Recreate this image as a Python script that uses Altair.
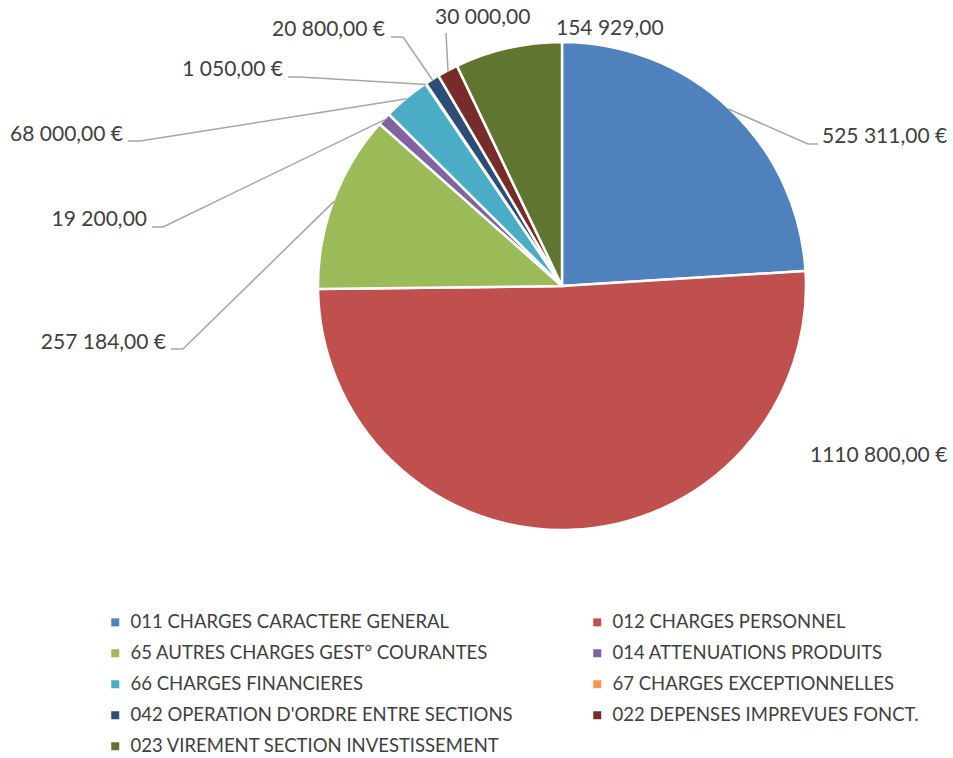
import altair as alt
import pandas as pd

# ---- data ----
categories = [
    "011 CHARGES CARACTERE GENERAL",
    "012 CHARGES PERSONNEL",
    "65 AUTRES CHARGES GEST° COURANTES",
    "014 ATTENUATIONS PRODUITS",
    "66 CHARGES FINANCIERES",
    "67 CHARGES EXCEPTIONNELLES",
    "042 OPERATION D'ORDRE ENTRE SECTIONS",
    "022 DEPENSES IMPREVUES FONCT.",
    "023 VIREMENT SECTION INVESTISSEMENT",
]
values = [525311, 1110800, 257184, 19200, 68000, 1050, 20800, 30000, 154929]
value_labels = [
    "525 311,00 €", "1110 800,00 €", "257 184,00 €", "19 200,00",
    "68 000,00 €", "1 050,00 €", "20 800,00 €", "30 000,00", "154 929,00",
]
colors = ["#4F81BD", "#C0504D", "#9BBB59", "#8064A2", "#4BACC6",
          "#F79646", "#2C4D75", "#772C2A", "#5F7530"]

# legend is filled column by column: reorder so it reads row-wise like the reference
legend_order = [0, 2, 4, 6, 8, 1, 3, 5, 7]
legend_domain = [categories[i] for i in legend_order]
legend_range = [colors[i] for i in legend_order]

# ---- layout (label placement, like Excel's best-fit labels) ----
CX, CY, R = 562, 286, 243
label_x = [822, 810, 166, 147, 123, 283, 385, 435, 556]
label_y = [137, 456, 343, 220, 135, 70, 30, 18, 29]
label_align = ["left", "left", "right", "right", "right", "right", "right", "left", "left"]
has_leader = [True, False, True, True, True, True, True, True, False]
elbow_x = [808, 0, 183, 163, 140, 300, 403, 446, 0]
elbow_y = [144, 0, 349, 227, 141, 77, 37, 33, 0]
end_x = [818, 0, 171, 152, 128, 288, 391, 446, 0]

df = pd.DataFrame({
    "cat": categories,
    "value": values,
    "order": list(range(len(categories))),
    "label": value_labels,
    "tx": label_x,
    "ty": label_y,
    "align": label_align,
    "leader": has_leader,
    "bx": elbow_x,
    "by": elbow_y,
    "hx": end_x,
})

FONT = "Lato"
TEXT_COLOR = "#404040"
LINE_COLOR = "#A6A6A6"

base = alt.Chart(df)

pie = base.mark_arc(outerRadius=R + 1, stroke="white", strokeWidth=2.5).encode(
    theta=alt.Theta("value:Q", stack=True),
    order=alt.Order("order:Q", sort="ascending"),
    x=alt.value(CX),
    y=alt.value(CY),
    color=alt.Color(
        "cat:N",
        scale=alt.Scale(domain=legend_domain, range=legend_range),
        legend=alt.Legend(
            title=None,
            orient="none",
            legendX=106,
            legendY=613,
            columns=2,
            columnPadding=75,
            rowPadding=12,
            symbolType="square",
            symbolSize=64,
            symbolStrokeWidth=0,
            symbolOffset=0,
            labelOffset=6,
            labelFont=FONT,
            labelFontSize=18.5,
            labelColor=TEXT_COLOR,
            labelLimit=600,
            padding=0,
        ),
    ),
)

geo = base.transform_joinaggregate(
    total="sum(value)"
).transform_window(
    cum="sum(value)", sort=[alt.SortField("order", order="ascending")], frame=[None, 0]
).transform_calculate(
    mid="(datum.cum - datum.value / 2) / datum.total * 2 * PI",
).transform_calculate(
    ex=f"{CX} + {R} * sin(datum.mid)",
    ey=f"{CY} - {R} * cos(datum.mid)",
).transform_filter("datum.leader")

leader1 = geo.mark_rule(color=LINE_COLOR, strokeWidth=1.5).encode(
    x=alt.X("ex:Q", scale=None, axis=None),
    y=alt.Y("ey:Q", scale=None, axis=None),
    x2="bx:Q",
    y2="by:Q",
)
leader2 = geo.mark_rule(color=LINE_COLOR, strokeWidth=1.5).encode(
    x=alt.X("bx:Q", scale=None, axis=None),
    y=alt.Y("by:Q", scale=None, axis=None),
    x2="hx:Q",
    y2="by:Q",
)

def labels(al):
    return base.transform_filter(f"datum.align == '{al}'").mark_text(
        align=al, baseline="middle", font=FONT, fontSize=21, color=TEXT_COLOR
    ).encode(
        x=alt.X("tx:Q", scale=None, axis=None),
        y=alt.Y("ty:Q", scale=None, axis=None),
        text="label:N",
    )

chart = alt.layer(pie, leader1, leader2, labels("left"), labels("right")).properties(
    width=953, height=758, autosize="none", padding=0
).configure_view(stroke=None)

chart.save("out.html", embed_options={"renderer": "svg", "actions": False})
